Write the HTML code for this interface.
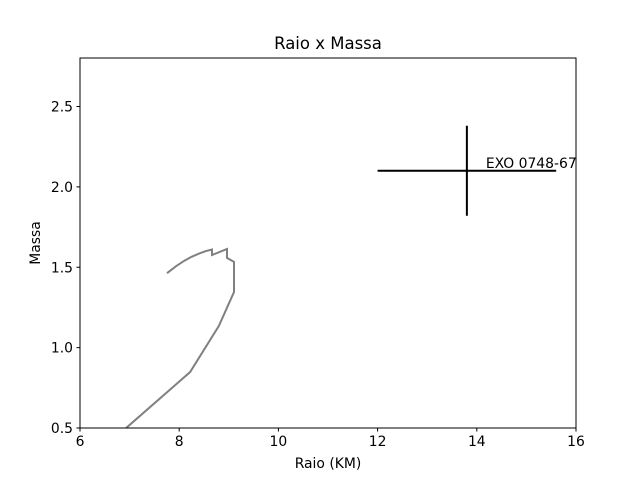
<!DOCTYPE html>
<html><head><meta charset="utf-8"><style>body{margin:0;background:#fff}svg{display:block;font-family:"DejaVu Sans","Liberation Sans",sans-serif}</style></head>
<body>
<svg id="c" width="640" height="480">
<rect width="640" height="480" fill="#fff"/>
<text x="328" y="49" text-anchor="middle" font-size="16.5">Raio x Massa</text>
<g id="plot"></g>
<rect x="80" y="58" width="496" height="370" fill="none" stroke="#000" stroke-width="1"/>
<text x="328" y="468" text-anchor="middle" font-size="13.9">Raio (KM)</text>
<text transform="translate(40,243) rotate(-90)" text-anchor="middle" font-size="13.9">Massa</text>
</svg>
<script>
const xTicks=[6,8,10,12,14,16];
const yTicks=[0.5,1.0,1.5,2.0,2.5];
const curveR=[6.93,8.22,8.80,9.105,9.105,8.964,8.964,8.661,8.661,8.53,8.40,8.25,8.10,7.93,7.754];
const curveM=[0.5,0.848,1.135,1.346,1.533,1.558,1.614,1.576,1.610,1.600,1.585,1.565,1.540,1.505,1.463];
const pointR=[13.8];const pointM=[2.1];
const errR=[1.8];const errM=[0.28];
const pointLabels=["EXO 0748-67"];
const X=v=>80+(v-6)*49.6, Y=v=>428-(v-0.5)*160.75;
const NS="http://www.w3.org/2000/svg";
const svg=document.getElementById('c'), g=document.getElementById('plot');
function mk(t,a,p){const e=document.createElementNS(NS,t);for(const k in a)e.setAttribute(k,a[k]);(p||g).appendChild(e);return e;}
xTicks.forEach(v=>{
 const l=mk('line',{x1:X(v),x2:X(v),y1:428,y2:431.5,stroke:'#000'},svg);
 
 
 const t=mk('text',{x:X(v),y:446,'text-anchor':'middle','font-size':13.9},svg);t.textContent=v;
 
 
});
yTicks.forEach(v=>{
 const l=mk('line',{x1:76.5,x2:80,y1:Y(v),y2:Y(v),stroke:'#000'},svg);
 
 
 const t=mk('text',{x:73,y:Y(v)+5,'text-anchor':'end','font-size':13.9},svg);t.textContent=v.toFixed(1);
 
 
});
const pts=curveR.map((r,i)=>X(r)+','+Y(curveM[i])).join(' ');
const pl=mk('polyline',{points:pts,fill:'none',stroke:'#808080','stroke-width':2});


pointR.forEach((r,i)=>{
 const h=mk('line',{x1:X(r-errR[i]),x2:X(r+errR[i]),y1:Y(pointM[i]),y2:Y(pointM[i]),stroke:'#000','stroke-width':2});
 
 
 const v=mk('line',{x1:X(r),x2:X(r),y1:Y(pointM[i]-errM[i]),y2:Y(pointM[i]+errM[i]),stroke:'#000','stroke-width':2});
 
 
 const c=mk('circle',{cx:X(r),cy:Y(pointM[i]),r:1.5,fill:'#000'});
 
 
 const t=mk('text',{x:X(r)+19,y:Y(pointM[i])-3,'font-size':13.9});t.textContent=pointLabels[i];
 
 
});
</script>
</body></html>
